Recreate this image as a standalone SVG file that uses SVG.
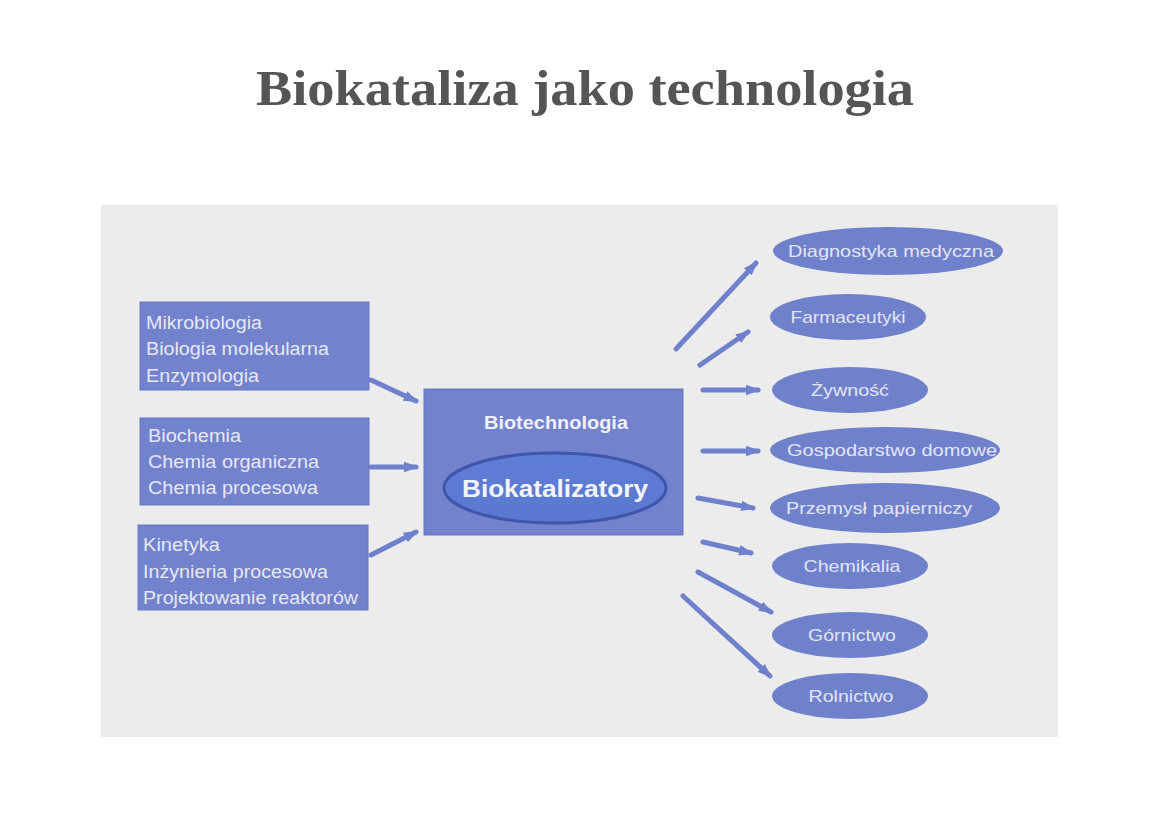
<svg xmlns="http://www.w3.org/2000/svg" width="1169" height="827" viewBox="0 0 1169 827">
<defs>
<style>
.box{fill:#7282cc;stroke:#6676c4;stroke-width:1}
.ell{fill:#7081cc}
.lt{font-family:"Liberation Sans",Arial,sans-serif;font-size:18px;fill:#e6e8f6}
.rt{font-family:"Liberation Sans",Arial,sans-serif;font-size:17px;fill:#e2e5f5;text-anchor:middle}
.con{stroke:#6f80cc;stroke-width:5;stroke-linecap:round;fill:none;marker-end:url(#ah)}
</style>
<marker id="ah" viewBox="0 0 10 10" refX="8" refY="5" markerWidth="3" markerHeight="3" orient="auto" markerUnits="strokeWidth">
<path d="M0,1.5 L10,5 L0,8.5 z" fill="#6f80cc"/>
</marker>
<linearGradient id="g1" x1="0" y1="0" x2="0" y2="1">
<stop offset="0" stop-color="#5f7ed6"/>
<stop offset="1" stop-color="#5a78d0"/>
</linearGradient>
</defs>
<rect width="1169" height="827" fill="#ffffff"/>
<text x="585" y="105" text-anchor="middle" font-family="'Liberation Serif',serif" font-size="50" font-weight="bold" fill="#555555" textLength="658" lengthAdjust="spacingAndGlyphs">Biokataliza jako technologia</text>
<rect x="101" y="205" width="957" height="532" fill="#ececec"/>

<g id="connectors">
<line class="con" x1="371" y1="380" x2="416" y2="401"/>
<line class="con" x1="371" y1="467" x2="416" y2="467"/>
<line class="con" x1="371" y1="555" x2="416" y2="532"/>
<line class="con" x1="676" y1="349" x2="756" y2="263"/>
<line class="con" x1="700" y1="365" x2="748" y2="332"/>
<line class="con" x1="703" y1="390" x2="758" y2="390"/>
<line class="con" x1="703" y1="451" x2="758" y2="451"/>
<line class="con" x1="698" y1="498" x2="753" y2="508"/>
<line class="con" x1="703" y1="542" x2="751" y2="553"/>
<line class="con" x1="698" y1="572" x2="771" y2="612"/>
<line class="con" x1="683" y1="596" x2="770" y2="676"/>
</g>

<g id="n-mikro">
<rect class="box" x="140" y="302" width="229" height="88"/>
<text class="lt" x="146" y="329" textLength="116" lengthAdjust="spacingAndGlyphs">Mikrobiologia</text>
<text class="lt" x="146" y="355" textLength="183" lengthAdjust="spacingAndGlyphs">Biologia molekularna</text>
<text class="lt" x="146" y="382" textLength="113" lengthAdjust="spacingAndGlyphs">Enzymologia</text>
</g>
<g id="n-biochem">
<rect class="box" x="140" y="418" width="229" height="87"/>
<text class="lt" x="148" y="442" textLength="93" lengthAdjust="spacingAndGlyphs">Biochemia</text>
<text class="lt" x="148" y="468" textLength="171" lengthAdjust="spacingAndGlyphs">Chemia organiczna</text>
<text class="lt" x="148" y="494" textLength="170" lengthAdjust="spacingAndGlyphs">Chemia procesowa</text>
</g>
<g id="n-kinetyka">
<rect class="box" x="138" y="525" width="230" height="85"/>
<text class="lt" x="143" y="551" textLength="77" lengthAdjust="spacingAndGlyphs">Kinetyka</text>
<text class="lt" x="143" y="578" textLength="185" lengthAdjust="spacingAndGlyphs">Inżynieria procesowa</text>
<text class="lt" x="143" y="604" textLength="215" lengthAdjust="spacingAndGlyphs">Projektowanie reaktorów</text>
</g>
<g id="n-biotech">
<rect class="box" x="424" y="389" width="259" height="146"/>
<text x="556" y="429" text-anchor="middle" font-family="'Liberation Sans',Arial,sans-serif" font-size="19" font-weight="bold" fill="#f0f1fa" textLength="144" lengthAdjust="spacingAndGlyphs">Biotechnologia</text>
<ellipse cx="555" cy="488" rx="111" ry="35" fill="url(#g1)" stroke="#3f56aa" stroke-width="3"/>
<text x="555" y="497" text-anchor="middle" font-family="'Liberation Sans',Arial,sans-serif" font-size="24" font-weight="bold" fill="#f4f5fb" textLength="186" lengthAdjust="spacingAndGlyphs">Biokatalizatory</text>
</g>

<g id="n-diag">
<ellipse class="ell" cx="888" cy="251" rx="115" ry="24"/>
<text class="rt" x="891" y="257" textLength="206" lengthAdjust="spacingAndGlyphs">Diagnostyka medyczna</text>
</g>
<g id="n-farm">
<ellipse class="ell" cx="848" cy="317" rx="78" ry="23"/>
<text class="rt" x="848" y="323" textLength="115" lengthAdjust="spacingAndGlyphs">Farmaceutyki</text>
</g>
<g id="n-zyw">
<ellipse class="ell" cx="850" cy="390" rx="78" ry="23"/>
<text class="rt" x="850" y="396" textLength="78" lengthAdjust="spacingAndGlyphs">Żywność</text>
</g>
<g id="n-gosp">
<ellipse class="ell" cx="885" cy="450" rx="115" ry="23"/>
<text class="rt" x="892" y="456" textLength="210" lengthAdjust="spacingAndGlyphs">Gospodarstwo domowe</text>
</g>
<g id="n-przem">
<ellipse class="ell" cx="885" cy="508" rx="115" ry="25"/>
<text class="rt" x="879" y="514" textLength="186" lengthAdjust="spacingAndGlyphs">Przemysł papierniczy</text>
</g>
<g id="n-chem">
<ellipse class="ell" cx="850" cy="566" rx="78" ry="23"/>
<text class="rt" x="852" y="572" textLength="97" lengthAdjust="spacingAndGlyphs">Chemikalia</text>
</g>
<g id="n-gorn">
<ellipse class="ell" cx="850" cy="635" rx="78" ry="23"/>
<text class="rt" x="852" y="641" textLength="88" lengthAdjust="spacingAndGlyphs">Górnictwo</text>
</g>
<g id="n-roln">
<ellipse class="ell" cx="850" cy="696" rx="78" ry="23"/>
<text class="rt" x="851" y="702" textLength="85" lengthAdjust="spacingAndGlyphs">Rolnictwo</text>
</g>
</svg>
